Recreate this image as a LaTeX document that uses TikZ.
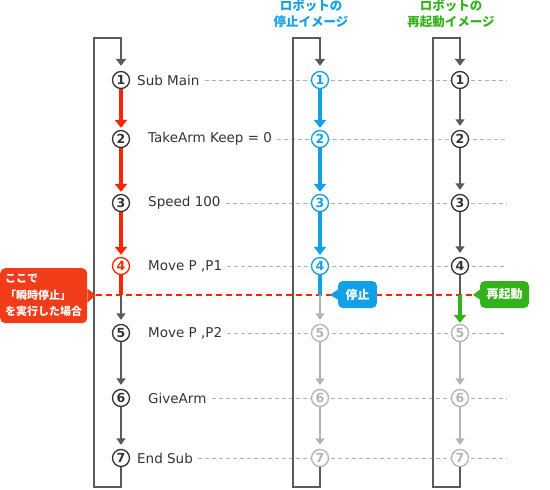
\documentclass[tikz,border=0pt]{standalone}
\usepackage{fontspec}
\setmainfont{DejaVu Sans}
\newfontfamily\jp{Noto Sans CJK JP}
\usetikzlibrary{arrows.meta}

\definecolor{dgray}{HTML}{5A5A5A}
\definecolor{tgray}{HTML}{333333}
\definecolor{lgray}{HTML}{B4B4B4}
\definecolor{dashgray}{HTML}{B0B0B0}
\definecolor{myred}{HTML}{FF2400}
\definecolor{calred}{HTML}{F03C18}
\definecolor{myblue}{HTML}{10A0E8}
\definecolor{mygreen}{HTML}{34B21C}

\tikzset{
  num/.style={circle, draw, fill=white, minimum size=17pt, inner sep=0pt, line width=1.3pt,
    font=\fontsize{12.5}{12.5}\selectfont\bfseries},
  numd/.style={num, draw=tgray, text=tgray},
  numr/.style={num, draw=myred, text=myred},
  numb/.style={num, draw=myblue, text=myblue},
  numl/.style={num, draw=lgray, text=lgray},
  lbl/.style={anchor=west, text=tgray, inner sep=0pt, font=\fontsize{13.5}{13.5}\selectfont},
  guide/.style={dashgray, line width=0.9pt, dash pattern=on 4pt off 3pt},
  reddash/.style={myred, line width=2pt, dash pattern=on 6pt off 4pt},
  loopline/.style={dgray, line width=2.3pt, line join=miter, -{Triangle[width=10pt,length=7pt]}, shorten >=5pt},
  thinarr/.style={dgray, line width=2pt, -{Triangle[width=9pt,length=6.5pt]}, shorten >=4pt},
  thinline/.style={dgray, line width=2pt},
  lightarr/.style={lgray, line width=2pt, -{Triangle[width=9pt,length=6.5pt]}, shorten >=4pt},
  redarr/.style={myred, line width=4pt, -{Triangle[width=12pt,length=8pt]}, shorten >=2pt},
  redline/.style={myred, line width=4pt},
  bluearr/.style={myblue, line width=3.5pt, -{Triangle[width=12pt,length=8pt]}, shorten >=2pt},
  blueline/.style={myblue, line width=3.5pt},
  greenarr/.style={mygreen, line width=4pt, -{Triangle[width=12pt,length=8pt]}, shorten >=1pt},
  callbox/.style={rounded corners=5pt, text=white, inner sep=0pt},
  head/.style={align=center, font=\jp\bfseries\fontsize{12.5}{16.5}\selectfont},
}

\begin{document}
\begin{tikzpicture}[x=1pt, y=-1pt]
\useasboundingbox (0,0) rectangle (550,490);

% headers
\node[head, text=myblue] (H1) at (311,14) {ロボットの\\停止イメージ};
\node[head, text=mygreen] (H2) at (451,14) {ロボットの\\再起動イメージ};

% labels
\node[lbl] (T1) at (137,80) {Sub Main};
\node[lbl] (T2) at (148,139) {TakeArm Keep = 0};
\node[lbl] (T3) at (148,203) {Speed 100};
\node[lbl] (T4) at (148,266) {Move P ,P1};
\node[lbl] (T5) at (148,333) {Move P ,P2};
\node[lbl] (T6) at (148,398) {GiveArm};
\node[lbl] (T7) at (137,458) {End Sub};

% guide ends
\coordinate (G1) at (507,80);
\coordinate (G2) at (507,139);
\coordinate (G3) at (507,203);
\coordinate (G4) at (507,266);
\coordinate (G5) at (507,333);
\coordinate (G6) at (507,398);
\coordinate (G7) at (507,458);
\foreach \i in {1,...,7} {
  \draw[guide] ([xshift=5pt]T\i.east) -- (G\i);
}

% red dashed stop line
\coordinate (Lptr) at (96,295);
\coordinate (Gptr) at (473,295);
\draw[reddash] (Lptr) -- (Gptr);

% circles
\node[numd] (L1) at (121,80) {1};
\node[numd] (L2) at (121,139) {2};
\node[numd] (L3) at (121,203) {3};
\node[numr] (L4) at (121,266) {4};
\node[numd] (L5) at (121,333) {5};
\node[numd] (L6) at (121,398) {6};
\node[numd] (L7) at (121,458) {7};

\node[numb] (M1) at (320,80) {1};
\node[numb] (M2) at (320,139) {2};
\node[numb] (M3) at (320,203) {3};
\node[numb] (M4) at (320,266) {4};
\node[numl] (M5) at (320,333) {5};
\node[numl] (M6) at (320,398) {6};
\node[numl] (M7) at (320,458) {7};

\node[numd] (R1) at (460,80) {1};
\node[numd] (R2) at (460,139) {2};
\node[numd] (R3) at (460,203) {3};
\node[numd] (R4) at (460,266) {4};
\node[numl] (R5) at (460,333) {5};
\node[numl] (R6) at (460,398) {6};
\node[numl] (R7) at (460,458) {7};

% loops
\coordinate (Lbr) at (121,487); \coordinate (Lbl) at (94,487);
\coordinate (Ltl) at (94,38);   \coordinate (Ltr) at (121,38);
\draw[loopline] (L7.south) -- (Lbr) -- (Lbl) -- (Ltl) -- (Ltr) -- (L1.north);
\coordinate (Mbr) at (320,487); \coordinate (Mbl) at (293,487);
\coordinate (Mtl) at (293,38);  \coordinate (Mtr) at (320,38);
\draw[loopline] (M7.south) -- (Mbr) -- (Mbl) -- (Mtl) -- (Mtr) -- (M1.north);
\coordinate (Rbr) at (460,487); \coordinate (Rbl) at (433,487);
\coordinate (Rtl) at (433,38);  \coordinate (Rtr) at (460,38);
\draw[loopline] (R7.south) -- (Rbr) -- (Rbl) -- (Rtl) -- (Rtr) -- (R1.north);

% split points
\coordinate (cL) at (121,295);
\coordinate (cM) at (320,295);
\coordinate (cR) at (460,295);

% left column
\draw[redarr] (L1) -- (L2);
\draw[redarr] (L2) -- (L3);
\draw[redarr] (L3) -- (L4);
\draw[redline] (L4) -- (cL);
\draw[thinarr] (cL) -- (L5);
\draw[thinarr] (L5) -- (L6);
\draw[thinarr] (L6) -- (L7);

% middle column
\draw[bluearr] (M1) -- (M2);
\draw[bluearr] (M2) -- (M3);
\draw[bluearr] (M3) -- (M4);
\draw[blueline] (M4) -- (cM);
\draw[lightarr] (cM) -- (M5);
\draw[lightarr] (M5) -- (M6);
\draw[lightarr] (M6) -- (M7);

% right column
\draw[thinarr] (R1) -- (R2);
\draw[thinarr] (R2) -- (R3);
\draw[thinarr] (R3) -- (R4);
\draw[thinline] (R4) -- (cR);
\draw[greenarr] (cR) -- (R5);
\draw[lightarr] (R5) -- (R6);
\draw[lightarr] (R6) -- (R7);

% callouts
\node[callbox, fill=calred, anchor=north west, minimum width=87pt, minimum height=55pt,
      text width=77pt, inner xsep=5pt, align=left,
      font=\jp\bfseries\fontsize{11}{16.5}\selectfont] (C1) at (0,268) {ここで\\「瞬時停止」\\を実行した場合};
\fill[calred] ([yshift=7pt]C1.east) -- (Lptr) -- ([yshift=-7pt]C1.east) -- cycle;

\node[callbox, fill=myblue, minimum width=39pt, minimum height=27pt,
      font=\jp\bfseries\fontsize{12}{12}\selectfont] (C2) at (357.5,294.5) {停止};
\fill[myblue] ([yshift=5pt]C2.west) -- (330,295) -- ([yshift=-5pt]C2.west) -- cycle;

\node[callbox, fill=mygreen, minimum width=49pt, minimum height=27pt,
      font=\jp\bfseries\fontsize{12}{12}\selectfont] (C3) at (504.5,294.5) {再起動};
\fill[mygreen] ([yshift=5pt]C3.west) -- (Gptr) -- ([yshift=-5pt]C3.west) -- cycle;
\end{tikzpicture}
\end{document}
